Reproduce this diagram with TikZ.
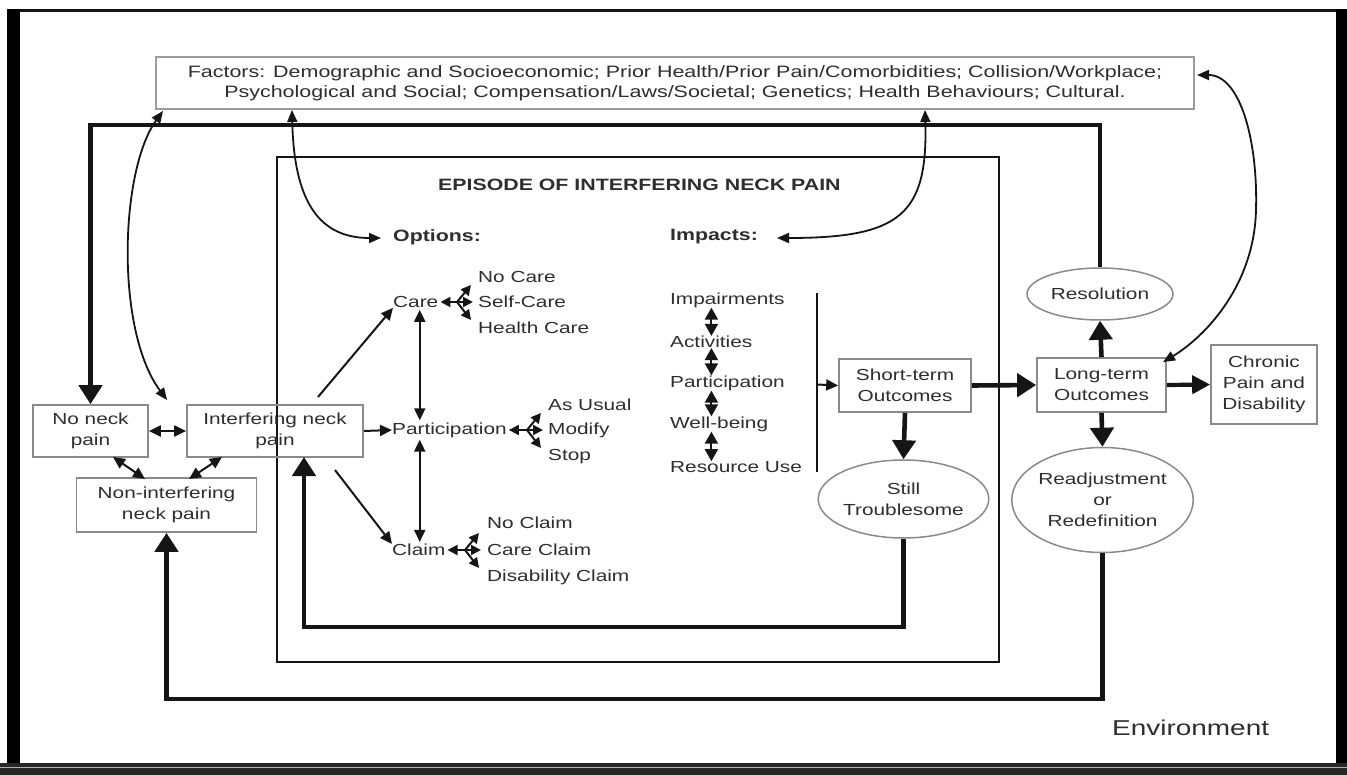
\documentclass[tikz,border=0pt]{standalone}
\usepackage{fontspec}
\setmainfont[FakeStretch=1.3]{Liberation Sans}
\usetikzlibrary{arrows.meta,shapes.geometric,calc}
\definecolor{txt}{HTML}{2E2E2E}
\definecolor{bord}{HTML}{8A8A8A}
\definecolor{ink}{HTML}{151515}
\definecolor{band}{HTML}{262626}
\begin{document}
\begin{tikzpicture}[x=1pt, y=-1pt, line join=miter,
  lbl/.style={text=txt, font=\fontsize{16}{21}\selectfont, inner sep=0pt, align=center},
  hdr/.style={text=txt, font=\fontsize{16.4}{20}\selectfont\bfseries, inner sep=0pt, anchor=west},
  item/.style={lbl, anchor=west},
  box/.style={lbl, draw=bord, line width=1.7pt},
  oval/.style={lbl, draw=bord, line width=1.5pt, ellipse},
  tarrow/.style={draw=ink, line width=2pt, -{Triangle[length=12pt,width=11pt]}},
  tdbl/.style={draw=ink, line width=2pt, {Triangle[length=12pt,width=11pt]}-{Triangle[length=12pt,width=11pt]}},
  idbl/.style={draw=ink, line width=2pt, {Triangle[length=12pt,width=13pt]}-{Triangle[length=12pt,width=13pt]}},
  fanarrow/.style={draw=ink, line width=2pt, -{Triangle[length=10pt,width=10pt]}},
  cdbl/.style={draw=ink, line width=1.8pt, {Triangle[length=12pt,width=10pt]}-{Triangle[length=12pt,width=10pt]}},
  barrow/.style={draw=ink, line width=4.6pt, -{Triangle[length=19pt,width=23pt]}},
  marrow/.style={draw=ink, line width=4.2pt, -{Triangle[length=18pt,width=18pt]}}
]
\useasboundingbox (0,0) rectangle (1347,775);
% frame
\fill[white] (0,0) rectangle (1347,775);
\fill[ink] (7,9) rectangle (1347,12);
\fill[black] (7,9) rectangle (20,763);
\fill[black] (1336,9) rectangle (1347,763);
\fill[band] (0,763) rectangle (1347,775);
\draw[gray!60, line width=1pt] (0,767) -- (1347,767);

% factors
\node[box, draw=bord!85, minimum width=1038pt, minimum height=52pt, font=\fontsize{16.5}{19.5}\selectfont] (factors) at (675,83)
 {Factors: Demographic and Socioeconomic; Prior Health/Prior Pain/Comorbidities; Collision/Workplace;\\Psychological and Social; Compensation/Laws/Societal; Genetics; Health Behaviours; Cultural.};

% episode
\node[draw=ink, line width=2.4pt, minimum width=722pt, minimum height=505pt, inner sep=0pt] (episode) at (638,409.5) {};
\node[hdr] (title) at (438,185) {EPISODE OF INTERFERING NECK PAIN};
\node[hdr] (options) at (393,237) {Options:};
\node[hdr] (impacts) at (670,237) {Impacts:};

% left boxes
\node[box, minimum width=115pt, minimum height=52pt] (noneck) at (90.5,431) {No neck\\pain};
\node[box, minimum width=176pt, minimum height=52pt] (interf) at (275,431) {Interfering neck\\pain};
\node[box, minimum width=180pt, minimum height=54pt] (nonint) at (166.5,505) {Non-interfering\\neck pain};

% options
\node[item] (care) at (393,302) {Care};
\node[item] (nocare) at (478,277) {No Care};
\node[item] (selfcare) at (478,302) {Self-Care};
\node[item] (healthcare) at (478,328) {Health Care};
\node[item] (particip) at (392,430) {Participation};
\node[item] (asusual) at (548,405) {As Usual};
\node[item] (modify) at (548,430) {Modify};
\node[item] (stop) at (548,457) {Stop};
\node[item] (claim) at (392,550) {Claim};
\node[item] (noclaim) at (487,523) {No Claim};
\node[item] (careclaim) at (487,550) {Care Claim};
\node[item] (disclaim) at (487,577) {Disability Claim};

% impacts
\node[item] (imp1) at (670,300) {Impairments};
\node[item] (imp2) at (670,342) {Activities};
\node[item] (imp3) at (670,383) {Participation};
\node[item] (imp4) at (670,424) {Well-being};
\node[item] (imp5) at (670,467) {Resource Use};

% outcomes
\node[box, minimum width=132pt, minimum height=53pt] (short) at (905,385.5) {Short-term\\Outcomes};
\node[oval, minimum width=163pt, minimum height=78pt] (still) at (903.5,499) {Still\\Troublesome};
\node[box, minimum width=129pt, minimum height=54pt] (long) at (1101.5,385) {Long-term\\Outcomes};
\node[oval, minimum width=146pt, minimum height=52pt] (resol) at (1100,294) {Resolution};
\node[oval, minimum width=181pt, minimum height=105pt] (readj) at (1102.5,500) {Readjustment\\or\\Redefinition};
\node[box, minimum width=106pt, minimum height=79pt] (chronic) at (1264,384.5) {Chronic\\Pain and\\Disability};
\node[lbl, anchor=west, font=\fontsize{21.5}{24}\selectfont] (env) at (1112,728) {Environment};

% named points
\coordinate (toploop) at (500,125);
\coordinate (l2bot) at (600,627);
\coordinate (l2up) at (304,457);
\coordinate (l3bot) at (600,699);
\coordinate (f1) at (292,110);
\coordinate (f2) at (925,110);
\coordinate (f3) at (163,111);
\coordinate (f4) at (1197,75);
\coordinate (c1end) at (381,238);
\coordinate (c2end) at (777,238);
\coordinate (c3end) at (167,400);
\coordinate (c4end) at (1163,362);
\coordinate (i2c) at (318,397);
\coordinate (i2cl) at (335,470);
\coordinate (bartop) at (817,293);
\coordinate (barbot) at (817,472);
\coordinate (barmid) at (817,384.5);
\coordinate (nn1) at (113,457);
\coordinate (nn2) at (145,479);
\coordinate (in1) at (222,457);
\coordinate (in2) at (189,479);

% fans
\coordinate (cfan) at (457,302);
\coordinate (cf1) at (471,285);
\coordinate (cf2) at (473,302);
\coordinate (cf3) at (471,320);
\coordinate (pfan) at (527,430);
\coordinate (pf1) at (541,413);
\coordinate (pf2) at (543,430);
\coordinate (pf3) at (541,448);
\coordinate (lfan) at (465,550);
\coordinate (lf1) at (479,533);
\coordinate (lf2) at (481,550);
\coordinate (lf3) at (479,568);

\draw[fanarrow, shorten >=2pt] (cfan) -- (care);
\draw[fanarrow] (cfan) -- (cf1);
\draw[fanarrow] (cfan) -- (cf2);
\draw[fanarrow] (cfan) -- (cf3);
\draw[fanarrow, shorten >=2pt] (pfan) -- (particip);
\draw[fanarrow] (pfan) -- (pf1);
\draw[fanarrow] (pfan) -- (pf2);
\draw[fanarrow] (pfan) -- (pf3);
\draw[fanarrow, shorten >=2pt] (lfan) -- (claim);
\draw[fanarrow] (lfan) -- (lf1);
\draw[fanarrow] (lfan) -- (lf2);
\draw[fanarrow] (lfan) -- (lf3);

% option arrows
\draw[tarrow] (i2c) -- (care.south west);
\draw[tarrow] (interf.east) -- (particip.west);
\draw[tarrow] (i2cl) -- (claim.north west);
\draw[tdbl, shorten <=2pt, shorten >=2pt] ([xshift=4pt]care.south) -- ([xshift=4pt]care.south |- particip.north);
\draw[tdbl, shorten <=2pt, shorten >=2pt] ([xshift=4pt]care.south |- particip.south) -- ([xshift=4pt]care.south |- claim.north);

% neck boxes
\draw[tdbl] (noneck.east) -- (interf.west);
\draw[tdbl] (nn1) -- (nn2);
\draw[tdbl] (in1) -- (in2);

% impacts
\draw[idbl] ([xshift=-16pt]imp1.south) -- ([xshift=-16pt]imp1.south |- imp2.north);
\draw[idbl] ([xshift=-16pt]imp1.south |- imp2.south) -- ([xshift=-16pt]imp1.south |- imp3.north);
\draw[idbl] ([xshift=-16pt]imp1.south |- imp3.south) -- ([xshift=-16pt]imp1.south |- imp4.north);
\draw[idbl] ([xshift=-16pt]imp1.south |- imp4.south) -- ([xshift=-16pt]imp1.south |- imp5.north);
\draw[draw=ink, line width=2.8pt] (bartop) -- (barbot);
\draw[tarrow] (barmid) -- (short.west);

% thick arrows
\draw[barrow] (short.south) -- (still.north);
\draw[barrow] (short.east) -- (long.west);
\draw[barrow] (long.north) -- (resol.south);
\draw[barrow] (long.south) -- (readj.north);
\draw[marrow] (long.east) -- (chronic.west);

% loops
\draw[barrow] (resol.north) |- (toploop) -| (noneck.north);
\draw[barrow] (still.south) |- (l2bot) -| (l2up);
\draw[barrow] (readj.south) |- (l3bot) -| (nonint.south);

% curves
\draw[cdbl] (f1) .. controls (294,200) and (318,238) .. (c1end);
\draw[cdbl] (f2) .. controls (928,215) and (900,238) .. (c2end);
\draw[cdbl] (f3) .. controls (120,170) and (115,330) .. (c3end);
\draw[cdbl] (f4) .. controls (1240,75) and (1258,140) .. (1256,210) .. controls (1254,290) and (1200,340) .. (c4end);
\end{tikzpicture}
\end{document}
